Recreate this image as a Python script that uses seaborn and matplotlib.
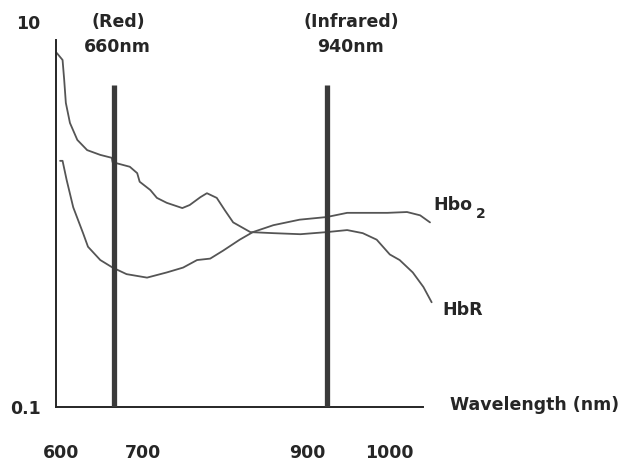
import numpy as np
import pandas as pd
import matplotlib
matplotlib.use("Agg")
import matplotlib.pyplot as plt
import seaborn as sns

# absorption curves (wavelength nm, relative absorption, log scale)
hbr_nm = [595, 602, 604, 606, 611, 620, 632, 648, 662, 663, 684, 693, 696, 709, 717,
          729, 748, 757, 770, 778, 790, 800, 810, 831, 859, 892, 924, 949, 968, 985,
          1001, 1013, 1029, 1042, 1052]
hbr_val = [6.9, 6.35, 5.0, 3.8, 2.99, 2.44, 2.16, 2.04, 1.97, 1.87, 1.77, 1.64, 1.48, 1.34, 1.22,
           1.15, 1.08, 1.12, 1.23, 1.29, 1.22, 1.05, 0.91, 0.81, 0.80, 0.79, 0.81, 0.83, 0.80, 0.74,
           0.62, 0.58, 0.50, 0.42, 0.35]

hbo2_nm = [599, 602, 607, 615, 627, 633, 648, 663, 680, 705, 729, 749, 766, 782, 798,
           818, 834, 859, 891, 924, 949, 998, 1022, 1038, 1050]
hbo2_val = [1.90, 1.90, 1.51, 1.09, 0.80, 0.68, 0.58, 0.53, 0.49, 0.47, 0.50, 0.53, 0.58, 0.59, 0.65,
            0.74, 0.81, 0.88, 0.94, 0.97, 1.02, 1.02, 1.03, 0.99, 0.91]

# LED wavelength markers (as drawn on the scan)
led_nm = [665, 924]
led_top = 4.7

x_ticks = [600, 700, 800, 900, 1000]
x_tick_labels = ["600", "700", "", "900", "1000"]

W, H = 623, 463
def px(x, y):
    return x / W, 1 - y / H

sns.set_style("white")
plt.rcParams["font.family"] = ["DejaVu Sans"]
ink = "#262626"
curve = "#555555"

fig = plt.figure(figsize=(6.23, 4.63), dpi=100)
ax = fig.add_axes([56 / W, (H - 407) / H, (438.2 - 56) / W, (407 - 22) / H])

df_r = pd.DataFrame({"nm": hbr_nm, "val": hbr_val})
df_o = pd.DataFrame({"nm": hbo2_nm, "val": hbo2_val})
sns.lineplot(data=df_r, x="nm", y="val", ax=ax, color=curve, lw=1.3, estimator=None, sort=False)
sns.lineplot(data=df_o, x="nm", y="val", ax=ax, color=curve, lw=1.3, estimator=None, sort=False)

ax.vlines(led_nm, 0.1, led_top, colors="#3a3a3a", lw=3.8, zorder=3)

ax.set_yscale("log")
ax.set_xlim(594, 1060)
ax.set_ylim(0.1, 10)

for s in ["top", "right"]:
    ax.spines[s].set_visible(False)
ax.spines["left"].set_bounds(0.1, 8.05)
ax.spines["bottom"].set_bounds(594, 1042)
for s in ["left", "bottom"]:
    ax.spines[s].set_color(ink)
    ax.spines[s].set_linewidth(1.4)

ax.set_xticks(x_ticks)
ax.set_xticklabels(x_tick_labels)
ax.set_yticks([0.1, 10])
ax.set_yticklabels(["0.1", "10"])
ax.yaxis.set_minor_locator(matplotlib.ticker.NullLocator())
ax.tick_params(axis="x", direction="in", length=4, width=1.2, color=ink, pad=27,
               labelsize=12.5, labelcolor=ink)
ax.tick_params(axis="y", length=0, pad=11, labelsize=12.5, labelcolor=ink)
for t in ax.get_xticklabels() + ax.get_yticklabels():
    t.set_fontweight("bold")
ax.set_xlabel("")
ax.set_ylabel("")

tkw = dict(fontsize=12.5, fontweight="bold", color=ink)
fig.text(*px(118, 22), "(Red)", ha="center", va="center", **tkw)
fig.text(*px(117, 47), "660nm", ha="center", va="center", **tkw)
fig.text(*px(351, 22), "(Infrared)", ha="center", va="center", **tkw)
fig.text(*px(351, 47), "940nm", ha="center", va="center", **tkw)
fig.text(*px(433, 205), "Hbo", ha="left", va="center", **tkw)
fig.text(*px(476, 214), "2", ha="left", va="center", fontsize=10, fontweight="bold", color=ink)
fig.text(*px(442, 310), "HbR", ha="left", va="center", **tkw)
fig.text(*px(450, 405), "Wavelength (nm)", ha="left", va="center", **tkw)

fig.savefig("out.png", dpi=100, facecolor="white")
